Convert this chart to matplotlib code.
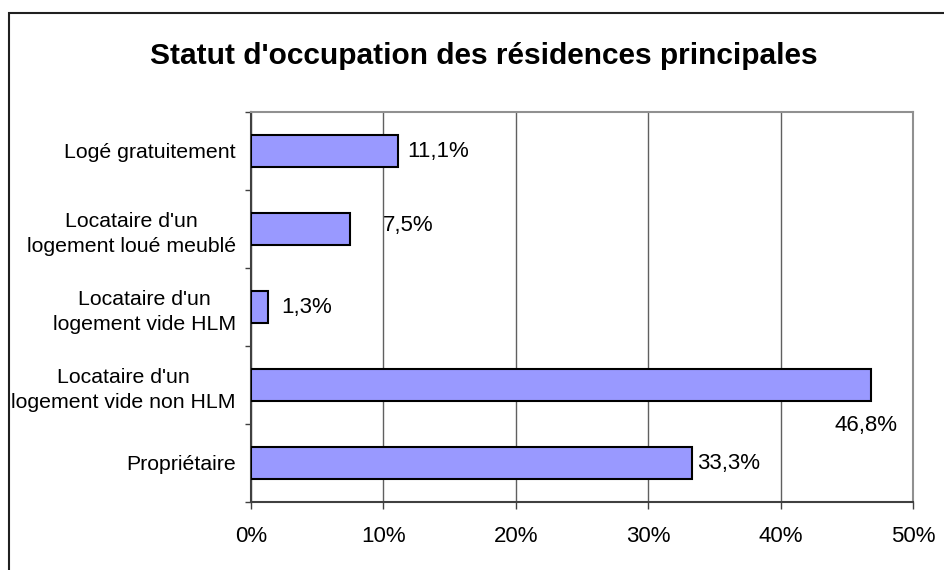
import matplotlib.pyplot as plt
from matplotlib.patches import Rectangle
from matplotlib.ticker import FixedLocator, FuncFormatter

plt.rcParams['font.family'] = ['Liberation Sans', 'DejaVu Sans']

categories = ["Propriétaire",
              "Locataire d'un\nlogement vide non HLM",
              "Locataire d'un\nlogement vide HLM",
              "Locataire d'un\nlogement loué meublé",
              "Logé gratuitement"]
values = [33.3, 46.8, 1.3, 7.5, 11.1]
value_labels = ["33,3%", "46,8%", "1,3%", "7,5%", "11,1%"]

# label placement (pixel offsets from bar end), like the Excel original
label_dx = [5, -5, 13, 33, 9]
label_dy = [0, -40, 0, 4, 0]
label_ha = ['left', 'center', 'left', 'left', 'left']

fs = 16

fig = plt.figure(figsize=(9.44, 5.70), dpi=100)
ax = fig.add_axes([251 / 944, 1 - 502 / 570, 662 / 944, 390 / 570])

pos = list(range(len(categories)))
ax.barh(pos, values, height=0.41, color='#9999ff', edgecolor='black', linewidth=1.5, zorder=3)

ax.set_xlim(0, 50)
ax.set_ylim(-0.5, 4.5)
ax.set_xticks([0, 10, 20, 30, 40, 50])
ax.xaxis.set_major_formatter(FuncFormatter(lambda v, p: f"{int(v)}%"))
ax.tick_params(axis='x', direction='out', length=5, width=1, color='#404040', labelsize=fs, pad=12)
ax.xaxis.grid(True, color='#606060', linewidth=1, zorder=0)

ax.set_yticks(pos)
ax.set_yticklabels(categories, ha='right', multialignment='center', fontsize=15.3, linespacing=1.4)
ax.tick_params(axis='y', which='major', length=0, pad=11)
ax.yaxis.set_minor_locator(FixedLocator([-0.5, 0.5, 1.5, 2.5, 3.5, 4.5]))
ax.tick_params(axis='y', which='minor', direction='out', length=4, width=1, color='#404040')

for s in ['left', 'bottom']:
    ax.spines[s].set_color('#404040')
    ax.spines[s].set_linewidth(1.5)
for s in ['top', 'right']:
    ax.spines[s].set_color('#909090')
    ax.spines[s].set_linewidth(1.5)

for i, v in enumerate(values):
    ax.annotate(value_labels[i], xy=(v, i), xytext=(label_dx[i], label_dy[i]),
                textcoords='offset pixels', ha=label_ha[i], va='center', fontsize=fs)

fig.text(484 / 944, 1 - 56 / 570, "Statut d'occupation des résidences principales",
         ha='center', va='center', fontsize=21.5, fontweight='bold')

fig.add_artist(Rectangle((9 / 944, -0.1), 2, 1 - 13 / 570 + 0.1, transform=fig.transFigure,
                         fill=False, edgecolor='#202020', linewidth=1.5))

fig.savefig('out.png', dpi=100)
